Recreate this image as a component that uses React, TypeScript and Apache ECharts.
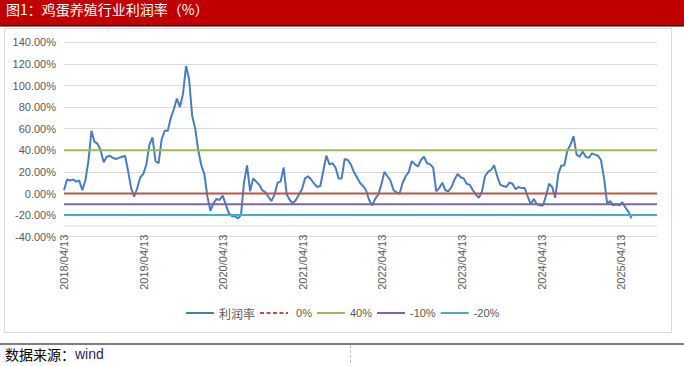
import React, { useEffect, useRef } from 'react';
import * as echarts from 'echarts';

// ---- data ----
const START_DATE = '2018-04-13';
const STEP_DAYS = 14; // one reading every two weeks
const profitValues: number[] = [
  3, 13, 12, 13, 11, 12, 3, 12, 30, 58,
  48, 46, 40, 29, 34, 35, 33, 32, 33, 34,
  35, 21, 5, -3, 5, 15, 18, 27, 45, 52,
  30, 28, 50, 58, 58, 70, 78, 88, 80, 92,
  118, 106, 72, 60, 40, 26, 18, -3, -16, -9,
  -5, -6, -2, -10, -18, -21, -21, -23, -20, 10,
  26, 2, 14, 11, 8, 3, 1, -3, -7, -1,
  10, 11, 24, -1, -6, -9, -6, -1, 4, 14,
  16, 13, 9, 6, 7, 21, 35, 27, 28, 24,
  14, 14, 32, 31, 27, 20, 15, 10, 7, 3,
  -6, -11, -5, -1, 8, 20, 16, 12, 3, 1,
  0, 10, 16, 20, 30, 27, 25, 31, 34, 28,
  27, 24, 2, 5, 10, 3, 2, 6, 13, 18,
  15, 14, 9, 8, 3, -1, -4, 2, 16, 20,
  22, 26, 16, 8, 7, 6, 10, 9, 4, 6,
  5, 5, -3, -10, -5, -10, -11, -11, -2, 9,
  6, -4, 18, 26, 26, 40, 45, 53, 36, 34,
  39, 34, 33, 37, 36, 35, 31, 14, -9, -7,
  -11, -10, -11, -8, -13, -17, -23,
];
const seriesName = '利润率';
const refNames = [' 0%', '40%', '-10%', '-20%'];
const refValues = [0, 40, -10, -20];
const hiddenGridValue = -30;
const xTickLabels = [
  '2018/04/13', '2019/04/13', '2020/04/13', '2021/04/13',
  '2022/04/13', '2023/04/13', '2024/04/13', '2025/04/13',
];
const X_MAX_DAYS = 2721;
const DAYS_PER_YEAR = 365.25;
const Y_MIN = -40;
const Y_MAX = 140;
const Y_STEP = 20;
const titleText = '图1：鸡蛋养殖行业利润率（%）';
const sourceLabel = '数据来源：';
const sourceName = 'wind';

// ---- styles ----
const profitColor = '#4A7EBB';
const refColors = ['#C0504D', '#9BBB59', '#8064A2', '#4BACC6'];
const gridColor = '#D9D9D9';
const labelColor = '#595959';
const latinFont = '"Liberation Sans", Arial, "Noto Sans CJK SC", sans-serif';
const cjkFont = '"Noto Sans CJK SC", sans-serif';

export default function App() {
  const ref = useRef<HTMLDivElement>(null);

  useEffect(() => {
    if (!ref.current) return;
    const chart = echarts.init(ref.current, undefined, { renderer: 'svg' });

    const profitData = profitValues.map((v, i) => [i * STEP_DAYS, v]);

    const series: any[] = [
      {
        name: '_grid30',
        type: 'line',
        data: [[0, hiddenGridValue], [X_MAX_DAYS, hiddenGridValue]],
        symbol: 'none',
        silent: true,
        lineStyle: { color: gridColor, width: 1 },
        z: 1,
      },
      {
        name: seriesName,
        type: 'line',
        data: profitData,
        symbol: 'none',
        showSymbol: false,
        lineStyle: { color: profitColor, width: 2 },
        itemStyle: { color: profitColor },
        z: 2,
      },
      ...refNames.map((name, i) => ({
        name,
        type: 'line',
        data: [[0, refValues[i]], [X_MAX_DAYS, refValues[i]]],
        symbol: 'none',
        lineStyle: { color: refColors[i], width: 2 },
        itemStyle: { color: refColors[i] },
        z: 3,
      })),
    ];

    const hiddenSymbol = { color: 'rgba(0,0,0,0)', borderWidth: 0, opacity: 0 };

    chart.setOption({
      animation: false,
      backgroundColor: '#ffffff',
      grid: { left: 64, right: 27, top: 42.3, bottom: 129.3, containLabel: false },
      xAxis: {
        type: 'value',
        min: 0,
        max: X_MAX_DAYS,
        interval: DAYS_PER_YEAR,
        axisLine: { show: true, lineStyle: { color: gridColor, width: 1 } },
        axisTick: { show: false },
        splitLine: { show: false },
        axisLabel: {
          rotate: 90,
          margin: -2,
          fontSize: 11,
          color: labelColor,
          fontFamily: latinFont,
          showMaxLabel: true,
          formatter: (v: number) => {
            const idx = v / DAYS_PER_YEAR;
            const r = Math.round(idx);
            if (Math.abs(idx - r) > 0.01) return '';
            return xTickLabels[r] ?? '';
          },
        },
      },
      yAxis: {
        type: 'value',
        min: Y_MIN,
        max: Y_MAX,
        interval: Y_STEP,
        axisLine: { show: false },
        axisTick: { show: false },
        splitLine: { show: true, lineStyle: { color: gridColor, width: 1 } },
        axisLabel: {
          margin: 8,
          fontSize: 11,
          color: labelColor,
          fontFamily: latinFont,
          formatter: (v: number) => v.toFixed(2) + '%',
        },
      },
      legend: {
        left: 185,
        top: 307,
        padding: 0,
        itemWidth: 28,
        itemHeight: 12,
        itemGap: 4,
        itemStyle: hiddenSymbol,
        textStyle: { fontSize: 11, color: labelColor, fontFamily: latinFont },
        data: [
          { name: seriesName, itemStyle: hiddenSymbol, textStyle: { fontSize: 12, fontFamily: cjkFont } },
          { name: refNames[0], itemStyle: hiddenSymbol, lineStyle: { type: [4, 2.5] } },
          { name: refNames[1], itemStyle: hiddenSymbol },
          { name: refNames[2], itemStyle: hiddenSymbol },
          { name: refNames[3], itemStyle: hiddenSymbol },
        ],
      },
      series,
      graphic: [
        { type: 'rect', shape: { x: 0, y: 0, width: 684, height: 25 }, style: { fill: '#C00000' }, silent: true },
        { type: 'rect', shape: { x: 0, y: 25, width: 684, height: 1.5 }, style: { fill: '#000000' }, silent: true },
        {
          type: 'text', x: 6, y: 9,
          style: { text: titleText, fill: '#ffffff', fontSize: 14, fontFamily: cjkFont, verticalAlign: 'middle' },
          silent: true,
        },
        { type: 'rect', shape: { x: 4.5, y: 28.5, width: 667, height: 304 }, style: { fill: 'none', stroke: gridColor, lineWidth: 1 }, silent: true, z: -1 },
        { type: 'line', shape: { x1: 0, y1: 344, x2: 684, y2: 344 }, style: { stroke: '#000000', lineWidth: 1 }, silent: true },
        { type: 'line', shape: { x1: 350.5, y1: 345, x2: 350.5, y2: 366 }, style: { stroke: '#BFBFBF', lineWidth: 1, lineDash: [3, 2] }, silent: true },
        {
          type: 'text', x: 5, y: 354,
          style: { text: sourceLabel, fill: '#000000', fontSize: 14, fontFamily: cjkFont, verticalAlign: 'middle' },
          silent: true,
        },
        {
          type: 'text', x: 75, y: 354,
          style: { text: sourceName, fill: '#1F1F66', fontSize: 14, fontFamily: latinFont, verticalAlign: 'middle' },
          silent: true,
        },
      ],
    });

    return () => chart.dispose();
  }, []);

  return (
    <div
      ref={ref}
      style={{ position: 'fixed', left: 0, top: 0, width: 684, height: 366, background: '#fff' }}
    />
  );
}
